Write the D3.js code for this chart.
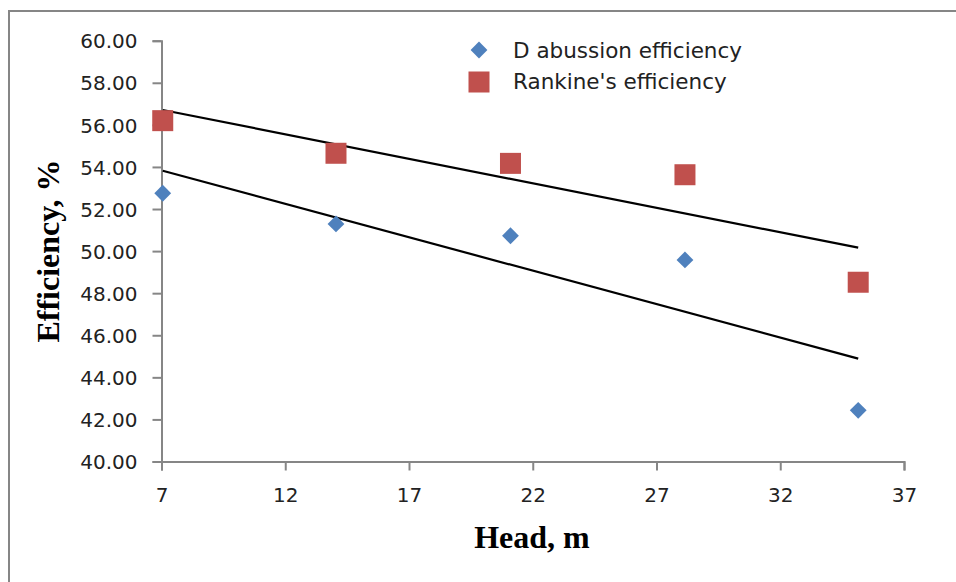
<!DOCTYPE html>
<html>
<head>
<meta charset="utf-8">
<script src="https://cdn.jsdelivr.net/npm/d3@7"></script>
<style>
  body { margin: 0; background: #fff; }
</style>
</head>
<body>
<script>
const head = [7.05, 14.05, 21.1, 28.15, 35.15];
const dabussion = [52.75, 51.29, 50.73, 49.58, 42.43];
const rankine = [56.20, 54.65, 54.17, 53.63, 48.52];
const xTicks = [7, 12, 17, 22, 27, 32, 37];
const yTicks = [40, 42, 44, 46, 48, 50, 52, 54, 56, 58, 60];
const seriesNames = ["D abussion efficiency", "Rankine's efficiency"];

const w = 956, h = 582;
const axisColor = "#868686";
const labelFont = "'DejaVu Sans', Arial, sans-serif";

const svg = d3.select("body").append("svg")
  .attr("width", w)
  .attr("height", h);

// chart border
svg.append("rect")
  .attr("x", 9).attr("y", 11)
  .attr("width", 1000).attr("height", 1000)
  .attr("fill", "none")
  .attr("stroke", axisColor)
  .attr("stroke-width", 2);

const xScale = d3.scaleLinear().domain([7, 37]).range([161.5, 904]);
const yScale = d3.scaleLinear().domain([40, 60]).range([461.5, 40.7]);

// least squares trend line
function trend(xs, ys) {
  const mx = d3.mean(xs), my = d3.mean(ys);
  const slope = d3.sum(xs, (x, i) => (x - mx) * (ys[i] - my)) / d3.sum(xs, x => (x - mx) ** 2);
  const x0 = d3.min(xs), x1 = d3.max(xs);
  return [[x0, my + slope * (x0 - mx)], [x1, my + slope * (x1 - mx)]];
}

// axes
const xAxis = d3.axisBottom(xScale).tickValues(xTicks).tickSize(9).tickSizeOuter(9).tickPadding(17);
const yAxis = d3.axisLeft(yScale).tickValues(yTicks).tickSize(9).tickSizeOuter(9).tickPadding(15)
  .tickFormat(d3.format(".2f"));

const gx = svg.append("g")
  .attr("transform", `translate(0, ${yScale(40)})`)
  .call(xAxis);
const gy = svg.append("g")
  .attr("transform", `translate(${xScale(7)}, 0)`)
  .call(yAxis);

[gx, gy].forEach(g => {
  g.select(".domain").attr("stroke", axisColor).attr("stroke-width", 2);
  g.selectAll(".tick line").attr("stroke", axisColor).attr("stroke-width", 2);
  g.selectAll(".tick text")
    .attr("fill", "#222")
    .style("font-family", labelFont)
    .style("font-size", "20px");
});
gy.selectAll(".tick text").attr("dy", "0.36em");

// trend lines
const line = d3.line().x(d => xScale(d[0])).y(d => yScale(d[1]));
[dabussion, rankine].forEach(vals => {
  svg.append("path")
    .attr("d", line(trend(head, vals)))
    .attr("fill", "none")
    .attr("stroke", "#000")
    .attr("stroke-width", 2.2);
});

// markers
const diamond = d3.symbol().type(d3.symbolDiamond2).size(180);
svg.selectAll(".dab")
  .data(head.map((x, i) => [x, dabussion[i]]))
  .enter().append("path")
  .attr("class", "dab")
  .attr("d", diamond)
  .attr("transform", d => `translate(${xScale(d[0])}, ${yScale(d[1])})`)
  .attr("fill", "#4F81BD");

const sq = 21;
svg.selectAll(".rank")
  .data(head.map((x, i) => [x, rankine[i]]))
  .enter().append("rect")
  .attr("class", "rank")
  .attr("x", d => xScale(d[0]) - sq / 2)
  .attr("y", d => yScale(d[1]) - sq / 2)
  .attr("width", sq).attr("height", sq)
  .attr("fill", "#C0504D");

// legend
const legend = svg.append("g").attr("transform", "translate(479, 0)");
legend.append("path")
  .attr("d", diamond)
  .attr("transform", "translate(0, 50)")
  .attr("fill", "#4F81BD");
legend.append("rect")
  .attr("x", -sq / 2).attr("y", 82 - sq / 2)
  .attr("width", sq).attr("height", sq)
  .attr("fill", "#C0504D");
seriesNames.forEach((name, i) => {
  legend.append("text")
    .attr("x", 34)
    .attr("y", 50 + i * 31)
    .attr("dy", "0.36em")
    .text(name)
    .style("font-family", labelFont)
    .style("font-size", "21.5px")
    .style("fill", "#222");
});

// axis titles
svg.append("text")
  .attr("x", 532)
  .attr("y", 548)
  .attr("text-anchor", "middle")
  .text("Head, m")
  .style("font-family", "'Liberation Serif', 'Times New Roman', serif")
  .style("font-weight", "bold")
  .style("font-size", "32px");

svg.append("text")
  .attr("transform", "translate(59, 251) rotate(-90)")
  .attr("text-anchor", "middle")
  .text("Efficiency, %")
  .style("font-family", "'Liberation Serif', 'Times New Roman', serif")
  .style("font-weight", "bold")
  .style("font-size", "32px");
</script>
</body>
</html>
